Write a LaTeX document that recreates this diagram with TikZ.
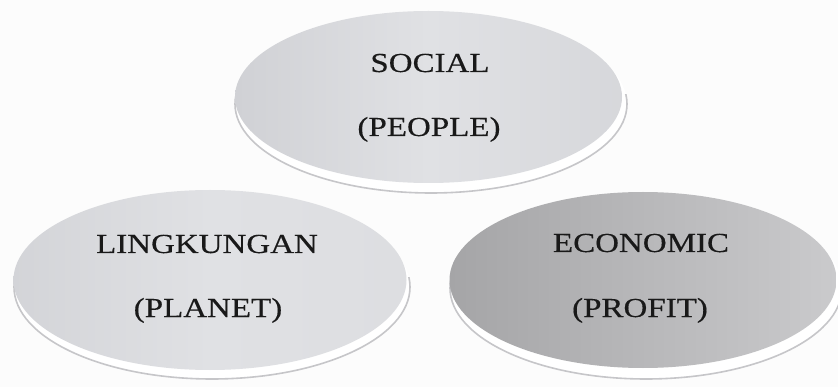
\documentclass[tikz,border=0pt]{standalone}
\usepackage{fontspec}
\setmainfont{Liberation Serif}
\newfontfamily\labfont{Liberation Serif}[FakeBold=0.35]
\usetikzlibrary{shapes.geometric}
\definecolor{pagebg}{HTML}{FCFCFC}
\definecolor{rimline}{HTML}{C6C6C9}
\definecolor{softA}{HTML}{D0D1D5}
\definecolor{softB}{HTML}{E0E1E4}
\definecolor{darkA}{HTML}{A5A5A7}
\definecolor{darkB}{HTML}{CACACC}
\newcommand{\widecaps}[1]{\scalebox{1.2}[1]{#1}}
\tikzset{
  rim/.style={ellipse, fill=white, inner sep=0pt},
  pillow/.style={ellipse, inner sep=0pt, draw=none},
  word/.style={anchor=base, inner sep=0pt, text=black!90,
    font=\labfont\fontsize{27.5}{30}\selectfont}
}
\begin{document}
\begin{tikzpicture}[x=1pt,y=-1pt]
  \useasboundingbox (0,0) rectangle (838,387);
  \fill[pagebg] (0,0) rectangle (838,387);

  % raised ellipses: a white rim underneath, then the shaded body
  \node[rim, minimum width=392pt, minimum height=178pt] (socialrim) at (431,104) {};
  \node[rim, minimum width=396pt, minimum height=184pt] (planetrim) at (212,287) {};
  \node[rim, minimum width=392pt, minimum height=182pt] (profitrim) at (646,288) {};

  % grey edge of each rim, only along its lower half
  \begin{scope}
    \clip (0,95) rectangle (838,200);
    \draw[rimline, line width=1.6pt] (socialrim.center) ellipse [x radius=196pt, y radius=89pt];
  \end{scope}
  \begin{scope}
    \clip (0,278) rectangle (838,387);
    \draw[rimline, line width=1.6pt] (planetrim.center) ellipse [x radius=198pt, y radius=92pt];
    \draw[rimline, line width=1.6pt] (profitrim.center) ellipse [x radius=196pt, y radius=91pt];
  \end{scope}

  \node[pillow, minimum width=387pt, minimum height=172pt,
        left color=softA, right color=softA!60!softB, middle color=softB] (social) at (428.5,97) {};
  \node[pillow, minimum width=393pt, minimum height=180pt,
        left color=softA!80!softB, right color=softB!80!softA, middle color=softB] (planet) at (210,280) {};
  \node[pillow, minimum width=387pt, minimum height=176pt,
        left color=darkA, middle color=darkA!80!darkB, right color=darkB] (profit) at (643,280) {};

  % labels
  \node[word] (t1) at (430,72)  {\widecaps{SOCIAL}};
  \node[word] (t2) at (429,136) {\widecaps{(PEOPLE)}};
  \node[word] (t3) at (207,253) {\widecaps{LINGKUNGAN}};
  \node[word] (t4) at (208,317) {\widecaps{(PLANET)}};
  \node[word] (t5) at (641,252) {\widecaps{ECONOMIC}};
  \node[word] (t6) at (640,317) {\widecaps{(PROFIT)}};
\end{tikzpicture}
\end{document}
